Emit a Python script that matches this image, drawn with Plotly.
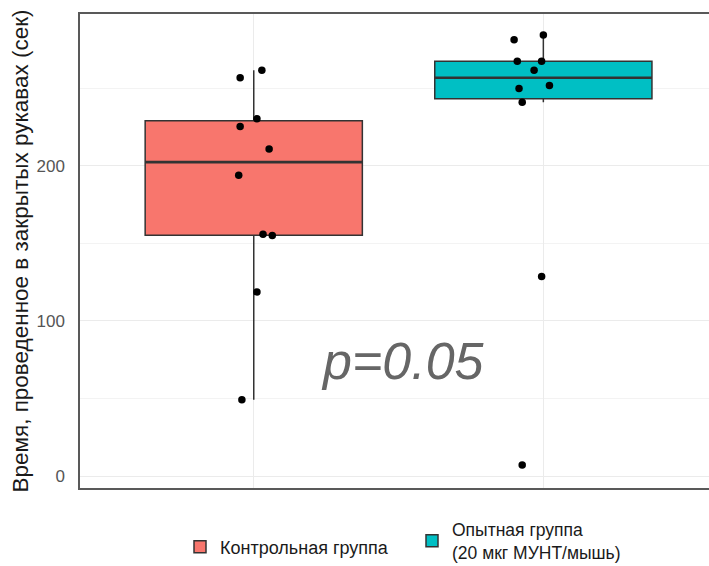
import numpy as np
import plotly.graph_objects as go

# ---- data ----
groups = ["Контрольная группа", "Опытная группа<br>(20 мкг МУНТ/мышь)"]
group_pos = [1, 2]
control_values = [261.7, 256.8, 230.3, 225.4, 210.8, 194.0, 155.9, 155.0, 118.7, 49.2]
control_jitter = [0.028, -0.047, 0.011, -0.047, 0.053, -0.052, 0.032, 0.064, 0.011, -0.041]
treated_values = [284.3, 281.3, 267.5, 267.5, 261.7, 251.8, 249.9, 241.0, 128.6, 7.1]
treated_jitter = [0.0, -0.101, -0.090, -0.006, -0.032, 0.021, -0.084, -0.073, -0.006, -0.073]
fill_colors = ["#F8766D", "#00BFC4"]
y_title = "Время, проведенное в закрытых рукавах (сек)"
p_label = "p=0.05"
y_ticks = [0, 100, 200]

series = [control_values, treated_values]
jitters = [control_jitter, treated_jitter]
legend_ids = ["legend", "legend2"]
BOX_W = 0.75


def box_stats(vals):
    v = np.array(vals, dtype=float)
    q1, med, q3 = np.percentile(v, [25, 50, 75])
    iqr = q3 - q1
    lo = v[v >= q1 - 1.5 * iqr].min()
    hi = v[v <= q3 + 1.5 * iqr].max()
    return q1, med, q3, lo, hi


fig = go.Figure()
for name, pos, vals, col, lg in zip(groups, group_pos, series, fill_colors, legend_ids):
    q1, med, q3, lo, hi = box_stats(vals)
    fig.add_trace(go.Box(
        name=name, x=[pos], q1=[q1], median=[med], q3=[q3],
        lowerfence=[lo], upperfence=[hi], legend=lg,
        fillcolor=col, line=dict(color="#333333", width=1.5),
        whiskerwidth=0, width=BOX_W, boxpoints=False, hoverinfo="skip",
    ))
    # thicker median line (ggplot style)
    fig.add_trace(go.Scatter(
        x=[pos - BOX_W / 2, pos + BOX_W / 2], y=[med, med], mode="lines",
        line=dict(color="#333333", width=2.6), showlegend=False, hoverinfo="skip",
    ))

for pos, vals, jit in zip(group_pos, series, jitters):
    fig.add_trace(go.Scatter(
        x=[pos + j for j in jit], y=vals, mode="markers",
        marker=dict(color="black", size=7.5), showlegend=False, hoverinfo="skip",
    ))

fig.add_annotation(
    x=1.514, y=74, text=p_label, showarrow=False, xanchor="center", yanchor="middle",
    font=dict(family="Liberation Sans", size=52, color="#666666", style="italic"),
)

legend_font = dict(size=18, color="#1a1a1a")
fig.update_layout(
    width=709, height=566,
    margin=dict(l=80, r=0, t=14, b=78, autoexpand=False),
    plot_bgcolor="white", paper_bgcolor="white",
    font=dict(family="Liberation Sans", color="#1a1a1a"),
    boxmode="overlay",
    legend=dict(orientation="h", xref="container", yref="container",
                x=180 / 709, xanchor="left", y=1 - 547 / 566, yanchor="middle",
                font=legend_font, itemwidth=30),
    legend2=dict(orientation="h", xref="container", yref="container",
                 x=412 / 709, xanchor="left", y=1 - 541 / 566, yanchor="middle",
                 valign="middle", font=dict(size=17.5, color="#1a1a1a"), itemwidth=30),
)
fig.update_xaxes(
    range=[0.4, 2.572], tickvals=group_pos, showticklabels=False, ticks="",
    showgrid=True, gridcolor="#ebebeb", gridwidth=1, zeroline=False,
    showline=True, mirror=True, linecolor="#595959", linewidth=1.5,
)
fig.update_yaxes(
    range=[-7.74, 297.9], tickvals=y_ticks, ticks="", ticklabelstandoff=10,
    tickfont=dict(size=17, color="#555555"), automargin=False,
    showgrid=True, gridcolor="#ebebeb", gridwidth=1, zeroline=False,
    minor=dict(dtick=50, tick0=0, showgrid=True, gridcolor="#f3f3f3", gridwidth=1),
    showline=True, linecolor="#595959", linewidth=1.5,
    title=dict(text=y_title, font=dict(size=22.5, color="#1a1a1a"), standoff=2),
)

fig.write_html("out.html", config={"displayModeBar": False},
               post_script="document.body.style.margin='0';document.body.style.overflow='hidden';")
